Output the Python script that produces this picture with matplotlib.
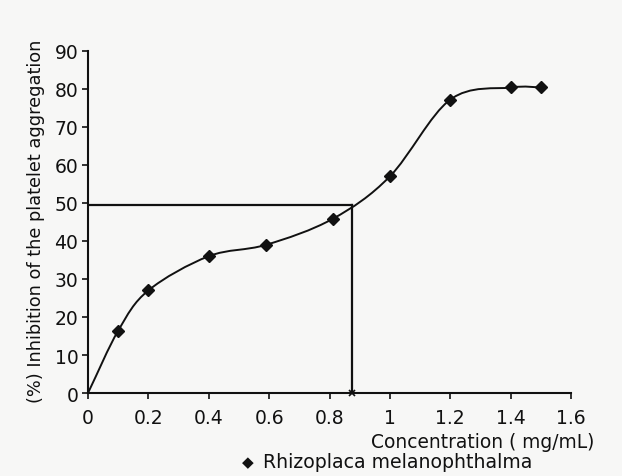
import numpy as np
import matplotlib.pyplot as plt
from matplotlib.path import Path
from matplotlib.patches import PathPatch

# data
conc = [0, 0.1, 0.2, 0.4, 0.59, 0.81, 1.0, 1.2, 1.4, 1.5]
inhibition = [0, 16.4, 27, 36, 39, 45.8, 57, 77.2, 80.4, 80.4]
ic50_x = 0.873
ic50_y = 49.5
xticks = [0, 0.2, 0.4, 0.6, 0.8, 1.0, 1.2, 1.4, 1.6]
xticklabels = ['0', '0.2', '0.4', '0.6', '0.8', '1', '1.2', '1.4', '1.6']
yticks = [0, 10, 20, 30, 40, 50, 60, 70, 80, 90]

plt.rcParams['font.family'] = 'DejaVu Sans'

fig = plt.figure(figsize=(6.22, 4.77), dpi=100, facecolor='#f7f7f6')
ax = fig.add_axes([0.1415, 0.174, 0.7765, 0.717])
ax.set_facecolor('none')


def smooth_path(xs, ys):
    # Catmull-Rom curve through the points, as cubic Bezier segments
    pts = np.column_stack([xs, ys])
    verts = [pts[0]]
    codes = [Path.MOVETO]
    n = len(pts)
    for i in range(n - 1):
        p0 = pts[i - 1] if i > 0 else 2 * pts[0] - pts[1]
        p1 = pts[i]
        p2 = pts[i + 1]
        p3 = pts[i + 2] if i + 2 < n else pts[i + 1]
        c1 = p1 + (p2 - p0) / 6.0
        c2 = p2 - (p3 - p1) / 6.0
        verts += [c1, c2, p2]
        codes += [Path.CURVE4] * 3
    return Path(verts, codes)


ax.add_patch(PathPatch(smooth_path(conc, inhibition), fill=False,
                       edgecolor='#111111', lw=1.4))
ax.plot(conc[1:], inhibition[1:], linestyle='none', marker='D',
        markersize=6.5, color='#111111')

# IC50 guide lines
ax.plot([0, ic50_x], [ic50_y, ic50_y], color='#111111', lw=1.6)
ax.plot([ic50_x, ic50_x], [0, ic50_y], color='#111111', lw=1.6)
ax.plot([ic50_x], [0], marker='x', markersize=5, color='#111111', mew=1.2,
        clip_on=False)

ax.set_xlim(0, 1.6)
ax.set_ylim(0, 90)
ax.set_xticks(xticks)
ax.set_xticklabels(xticklabels)
ax.set_yticks(yticks)
for s in ['top', 'right']:
    ax.spines[s].set_visible(False)
for s in ['left', 'bottom']:
    ax.spines[s].set_linewidth(1.5)
    ax.spines[s].set_color('#111111')
ax.tick_params(direction='out', length=4, width=1.2, labelsize=13.5,
               colors='#111111', pad=3)
ax.tick_params(axis='x', pad=7)

fig.text(0.058, 0.535, '(%) Inhibition of the platelet aggregation',
         rotation=90, ha='center', va='center', fontsize=12.8, color='#111111')
fig.text(0.955, 0.073, 'Concentration ( mg/mL)', ha='right', va='center',
         fontsize=13.4, color='#111111')
fig.text(0.389, 0.031, '\u25c6', ha='left', va='center', fontsize=11,
         color='#111111')
fig.text(0.423, 0.031, 'Rhizoplaca melanophthalma', ha='left', va='center',
         fontsize=13.6, color='#111111')

fig.savefig('out.png', dpi=100, facecolor=fig.get_facecolor())
